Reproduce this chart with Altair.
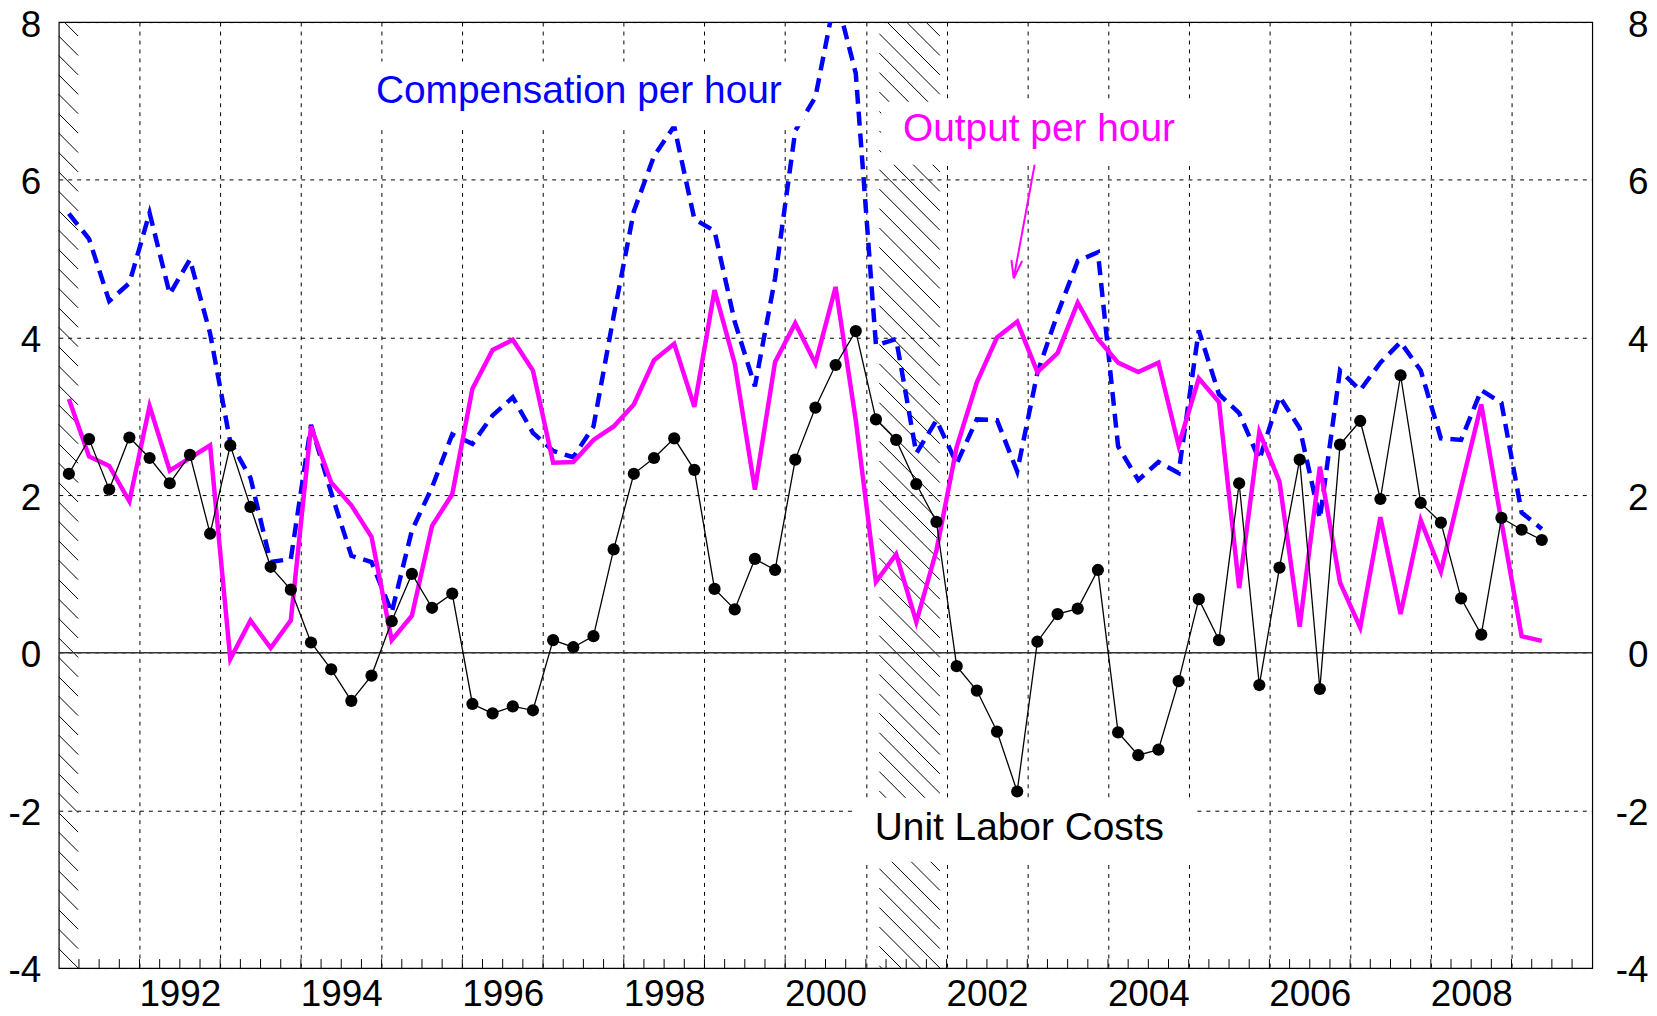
import altair as alt
import pandas as pd

# ---------------- data (quarterly, % change, 1991Q1 .. 2009Q2) ----------------
start_year = 1991
unit_labor_costs = [
    2.27, 2.71, 2.07, 2.73,
    2.47, 2.15, 2.51, 1.51,
    2.63, 1.85, 1.09, 0.80,
    0.13, -0.21, -0.61, -0.29,
    0.40, 1.00, 0.57, 0.75,
    -0.65, -0.77, -0.68, -0.73,
    0.16, 0.07, 0.21, 1.31,
    2.27, 2.47, 2.72, 2.32,
    0.81, 0.55, 1.19, 1.05,
    2.45, 3.11, 3.65, 4.08,
    2.96, 2.70, 2.14, 1.66,
    -0.17, -0.48, -1.00, -1.76,
    0.14, 0.49, 0.56, 1.05,
    -1.01, -1.30, -1.23, -0.36,
    0.68, 0.16, 2.15, -0.41,
    1.08, 2.45, -0.46, 2.64,
    2.94, 1.95, 3.52, 1.90,
    1.65, 0.69, 0.23, 1.71,
    1.56, 1.43,
]
compensation_per_hour = [
    5.57, 5.25, 4.46, 4.69,
    5.58, 4.55, 4.99, 4.05,
    2.67, 2.22, 1.15, 1.19,
    2.89, 2.03, 1.23, 1.15,
    0.51, 1.55, 2.10, 2.77,
    2.65, 3.01, 3.24, 2.79,
    2.56, 2.48, 2.87, 4.27,
    5.60, 6.30, 6.68, 5.50,
    5.35, 4.20, 3.38, 4.75,
    6.62, 7.05, 8.35, 7.35,
    3.90, 3.98, 2.53, 2.95,
    2.40, 2.96, 2.95, 2.30,
    3.55, 4.30, 4.97, 5.08,
    2.62, 2.19, 2.42, 2.28,
    4.09, 3.28, 3.04, 2.45,
    3.25, 2.85, 1.70, 3.58,
    3.33, 3.68, 3.94, 3.58,
    2.72, 2.70, 3.33, 3.17,
    1.78, 1.57,
]
output_per_hour = [
    3.22, 2.49, 2.37, 1.92,
    3.13, 2.31, 2.47, 2.63,
    -0.08, 0.41, 0.06, 0.41,
    2.87, 2.16, 1.87, 1.47,
    0.16, 0.47, 1.61, 2.01,
    3.35, 3.84, 3.97, 3.58,
    2.41, 2.42, 2.70, 2.87,
    3.15, 3.71, 3.92, 3.12,
    4.60, 3.67, 2.07, 3.69,
    4.18, 3.67, 4.64, 2.95,
    0.90, 1.25, 0.39, 1.30,
    2.61, 3.43, 4.00, 4.20,
    3.56, 3.80, 4.44, 3.98,
    3.68, 3.56, 3.68, 2.63,
    3.48, 3.18, 0.82, 2.80,
    2.17, 0.33, 2.36, 0.89,
    0.32, 1.72, 0.49, 1.68,
    1.03, 2.10, 3.15, 1.66,
    0.21, 0.15,
]

# recessions (hatched)
recession_start = [1991.0, 2001.167]
recession_end = [1991.24, 2001.917]

y_tick_values = [-4, -2, 0, 2, 4, 6, 8]
x_grid_years = list(range(1992, 2010))

# annotations (data coordinates)
ann_text = ["Compensation per hour", "Output per hour", "Unit Labor Costs"]
ann_color = ["#0000FF", "#FF00FF", "#000000"]
ann_x = [1994.93, 2001.46, 2001.11]
ann_y = [6.97, 6.49, -2.38]
box_x1 = [1994.66, 2001.19, 2000.853]
box_x2 = [2000.237, 2005.07, 2005.056]
box_y1 = [7.50, 6.99, -1.84]
box_y2 = [6.68, 6.19, -2.65]
arrow_x1 = [2003.091, 2002.804, 2002.936]
arrow_y1 = [6.19, 4.979, 4.970]
arrow_x2 = [2002.832, 2002.832, 2002.832]
arrow_y2 = [4.751, 4.751, 4.751]

# ---------------- layout ----------------
X_DOMAIN = [1991, 2010]
Y_DOMAIN = [-4, 8]
W, H = 1540, 950
FONT = "Liberation Sans"
PXY = W / (X_DOMAIN[1] - X_DOMAIN[0])
PXV = H / (Y_DOMAIN[1] - Y_DOMAIN[0])

n = len(unit_labor_costs)
t = [start_year + 0.125 + 0.25 * i for i in range(n)]
df = pd.DataFrame({
    "t": t,
    "ulc": unit_labor_costs,
    "comp": compensation_per_hour,
    "out": output_per_hour,
})

# hatch lines for recession shading ("\" direction, 45 deg in screen space)
SPACING = 19.5
hatch_rows = []
for a, b in zip(recession_start, recession_end):
    X0 = (a - X_DOMAIN[0]) * PXY
    X1 = (b - X_DOMAIN[0]) * PXY
    c0 = H - X1
    cs = []
    c = c0
    while c > -X1:
        cs.append(c)
        c -= SPACING
    c = c0 + SPACING
    while c < H - X0:
        cs.append(c)
        c += SPACING
    for c in cs:
        lo = max(X0, -c)
        hi = min(X1, H - c)
        if hi - lo > 0.5:
            hatch_rows.append({
                "x": X_DOMAIN[0] + lo / PXY,
                "x2": X_DOMAIN[0] + hi / PXY,
                "y": Y_DOMAIN[1] - (lo + c) / PXV,
                "y2": Y_DOMAIN[1] - (hi + c) / PXV,
            })
hatch_df = pd.DataFrame(hatch_rows)

quarter_ticks = pd.DataFrame({"q": [X_DOMAIN[0] + 0.25 * k for k in range(1, 76)]})
zero_df = pd.DataFrame({"y": [0]})
box_df = pd.DataFrame({"x": box_x1, "x2": box_x2, "y": box_y1, "y2": box_y2})
text_df = pd.DataFrame({"x": ann_x, "y": ann_y, "label": ann_text, "color": ann_color})
arrow_df = pd.DataFrame({"x": arrow_x1, "y": arrow_y1, "x2": arrow_x2, "y2": arrow_y2})

xs = alt.Scale(domain=X_DOMAIN, nice=False, zero=False)
ys = alt.Scale(domain=Y_DOMAIN, nice=False, zero=False)

x_axis = alt.Axis(
    values=x_grid_years, grid=True, gridDash=[4, 5], gridColor="black",
    gridWidth=1, gridOpacity=1, ticks=False, domain=False,
    labelExpr="datum.value % 2 == 0 ? '' + datum.value : ''",
    labelOffset=PXY / 2, labelFontSize=37, labelFont=FONT, labelColor="black",
    labelPadding=9, labelFlush=False, labelOverlap=False, title=None,
)
y_axis_left = alt.Axis(
    values=y_tick_values, grid=True, gridDash=[4, 5], gridColor="black",
    gridWidth=1, gridOpacity=1, ticks=False, domain=False,
    labelExpr="'' + datum.value",
    labelFontSize=37, labelFont=FONT, labelColor="black", labelPadding=18,
    labelOffset=3, title=None, labelOverlap=False, labelFlush=False,
)
y_axis_right = alt.Axis(
    values=y_tick_values, grid=False, ticks=False, domain=False, orient="right",
    labelExpr="'' + datum.value",
    labelFontSize=37, labelFont=FONT, labelColor="black", labelPadding=56,
    labelOffset=3, labelAlign="right", title=None, labelOverlap=False,
    labelFlush=False,
)

hatch = alt.Chart(hatch_df).mark_rule(color="black", strokeWidth=1).encode(
    x=alt.X("x:Q", scale=xs, axis=x_axis),
    x2="x2:Q",
    y=alt.Y("y:Q", scale=ys, axis=y_axis_left),
    y2="y2:Q",
)

qticks = alt.Chart(quarter_ticks).mark_rule(color="black", strokeWidth=1).encode(
    x=alt.X("q:Q", scale=xs, axis=None),
    y=alt.value(H),
    y2=alt.value(H - 9),
)

zero_line = alt.Chart(zero_df).mark_rule(color="#333333", strokeWidth=1.6).encode(
    y=alt.Y("y:Q", scale=ys, axis=None),
)

comp_line = alt.Chart(df).mark_line(
    color="#0000FF", strokeWidth=4.5, strokeDash=[14, 8], clip=True
).encode(
    x=alt.X("t:Q", scale=xs, axis=None),
    y=alt.Y("comp:Q", scale=ys, axis=None),
)

out_line = alt.Chart(df).mark_line(color="#FF00FF", strokeWidth=4.5, clip=True).encode(
    x=alt.X("t:Q", scale=xs, axis=None),
    y=alt.Y("out:Q", scale=ys, axis=None),
)

boxes = alt.Chart(box_df).mark_rect(fill="white").encode(
    x=alt.X("x:Q", scale=xs, axis=None),
    x2="x2:Q",
    y=alt.Y("y:Q", scale=ys, axis=None),
    y2="y2:Q",
)

texts = alt.Chart(text_df).mark_text(
    align="left", baseline="alphabetic", fontSize=39, font=FONT
).encode(
    x=alt.X("x:Q", scale=xs, axis=None),
    y=alt.Y("y:Q", scale=ys, axis=None),
    text="label:N",
    color=alt.Color("color:N", scale=None, legend=None),
)

arrow = alt.Chart(arrow_df).mark_rule(color="#FF00FF", strokeWidth=2).encode(
    x=alt.X("x:Q", scale=xs, axis=None),
    x2="x2:Q",
    y=alt.Y("y:Q", scale=ys, axis=None),
    y2="y2:Q",
)

ulc_line = alt.Chart(df).mark_line(color="black", strokeWidth=1.3).encode(
    x=alt.X("t:Q", scale=xs, axis=None),
    y=alt.Y("ulc:Q", scale=ys, axis=None),
)

ulc_pts = alt.Chart(df).mark_point(
    filled=True, color="black", size=150, opacity=1, shape="circle"
).encode(
    x=alt.X("t:Q", scale=xs, axis=None),
    y=alt.Y("ulc:Q", scale=ys, axis=y_axis_right),
)

chart = alt.layer(
    hatch, qticks, zero_line, comp_line, out_line, boxes, texts, arrow, ulc_line, ulc_pts
).resolve_axis(x="independent", y="independent").properties(
    width=W,
    height=H,
    padding={"left": 51, "top": 12, "right": 57, "bottom": 46},
    autosize=alt.AutoSizeParams(type="none"),
    background="white",
).configure_view(stroke="black", strokeWidth=1.2)

chart.save("out.html", embed_options={"renderer": "svg", "actions": False})
